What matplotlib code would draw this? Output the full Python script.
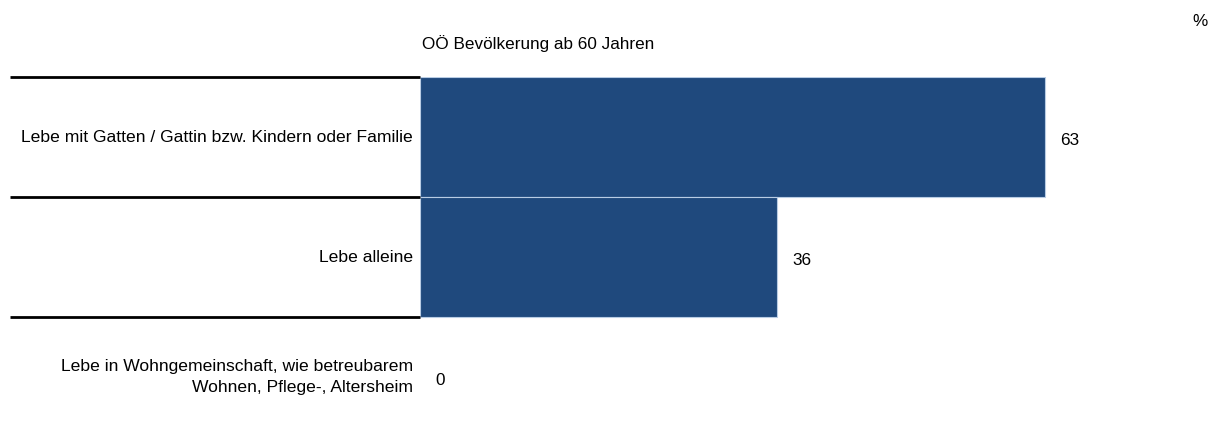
import matplotlib
matplotlib.use("Agg")
import matplotlib.pyplot as plt
import matplotlib.transforms as mtransforms

plt.rcParams['font.family'] = ['Liberation Sans', 'DejaVu Sans']

# Werte
categories = [
    "Lebe mit Gatten / Gattin bzw. Kindern oder Familie",
    "Lebe alleine",
    "Lebe in Wohngemeinschaft, wie betreubarem\nWohnen, Pflege-, Altersheim",
]
values = [63, 36, 0]
title = "OÖ Bevölkerung ab 60 Jahren"

FS = 12.3

fig = plt.figure(figsize=(12.16, 4.28), dpi=100)
ax = fig.add_axes([420 / 1216, -9 / 428, 793.6 / 1216, 360 / 428])

pos = list(range(len(categories)))
bars = ax.barh(pos, values, height=1.0, color='#1F497D', edgecolor='#B8CCE4', linewidth=0.8)
for b, v in zip(bars, values):
    if v == 0:
        b.set_linewidth(0)

ax.set_xlim(0, 80)
ax.set_ylim(len(categories) - 0.5, -0.5)
ax.axis('off')

# Wertbeschriftungen
for p, v in zip(pos, values):
    ax.text(v + 1.5, p + 0.03, str(v), ha='left', va='center', fontsize=FS)

# Kategorien links
trans = mtransforms.blended_transform_factory(fig.transFigure, ax.transData)
for p, c in zip(pos, categories):
    ax.text(413 / 1216, p, c, transform=trans, ha='right', va='center',
            fontsize=12.6, linespacing=1.45)

# Trennlinien zwischen den Kategorien
for b in [-0.5, 0.5, 1.5]:
    ax.plot([10 / 1216, 420 / 1216], [b, b], transform=trans, color='black',
            linewidth=2, clip_on=False, solid_capstyle='butt')

fig.text(422 / 1216, 1 - 44 / 428, title, ha='left', va='center', fontsize=FS)
fig.text(1200 / 1216, 1 - 22 / 428, "%", ha='center', va='center', fontsize=FS)

fig.savefig("out.png", dpi=100)
